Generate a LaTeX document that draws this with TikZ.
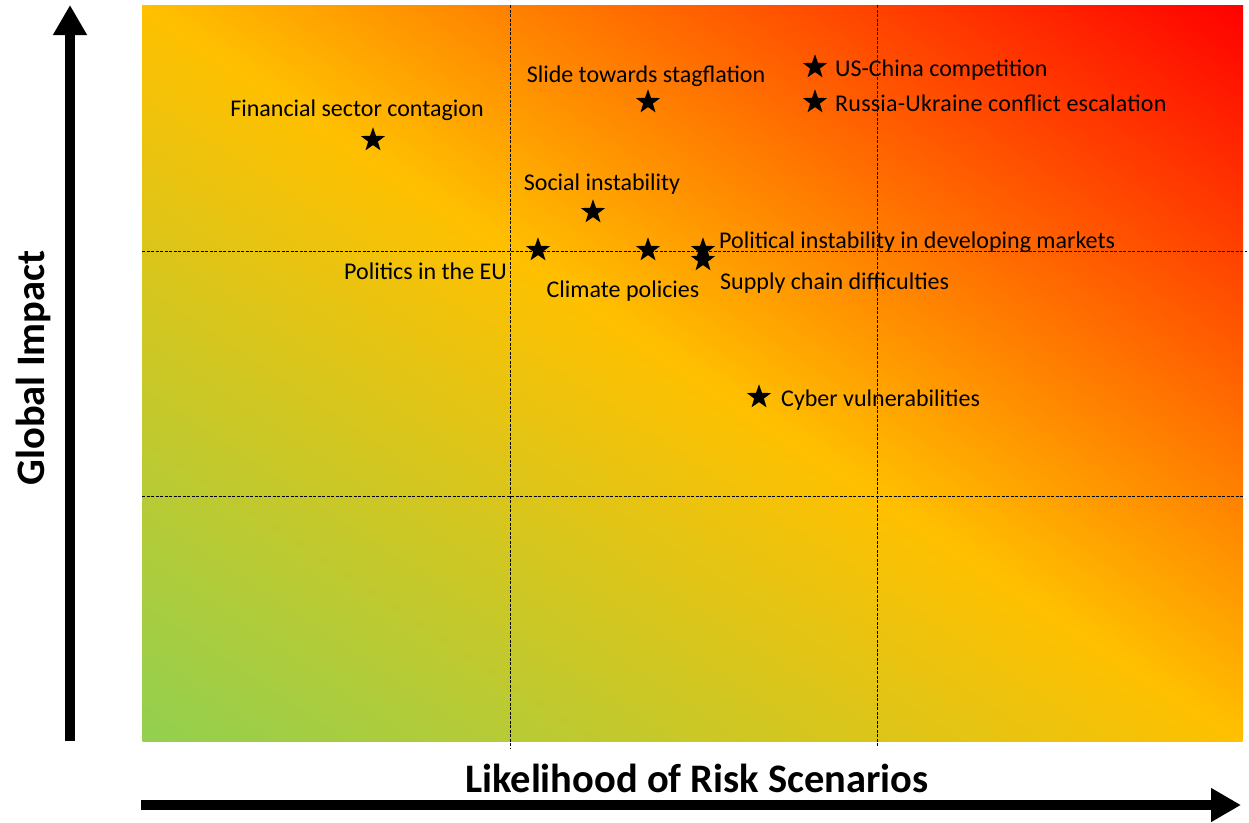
\documentclass[tikz,border=0pt]{standalone}
\usepackage{fontspec}
\setmainfont{Carlito}
\usepackage{xcolor}
\usepackage{tikz}
\usetikzlibrary{shapes.geometric, arrows.meta, positioning}

\definecolor{riskgreen}{HTML}{92D050}
\definecolor{riskyellow}{HTML}{FFC000}
\definecolor{riskred}{HTML}{FF0000}
\pgfdeclarehorizontalshading{riskmap}{100bp}{color(0bp)=(riskgreen); color(25bp)=(riskgreen); color(50bp)=(riskyellow); color(75bp)=(riskred); color(100bp)=(riskred)}

\begin{document}
\begin{tikzpicture}[
    x=1pt, y=-1pt,
    risk/.style={star, star points=5, star point ratio=2.5, fill=black, inner sep=0pt, minimum size=25.5pt},
    lbl/.style={font=\fontsize{24}{28}\selectfont, inner sep=1pt, text height=17pt, text depth=6pt},
    axislbl/.style={font=\fontsize{40.5}{46}\selectfont\bfseries, inner sep=0pt},
    gridline/.style={dash pattern=on 3pt off 1.5pt, line width=0.8pt},
    axisarrow/.style={line width=10pt, -{Triangle[length=30pt, width=32pt]}}
]
\useasboundingbox (0,0) rectangle (1249,822);

% Background map
\begin{scope}
\clip (142,5) rectangle (1243,741);
\begin{scope}[transform canvas={shift={(692.5,373)}, xscale=5.505, yscale=3.68, rotate=45}]
\shade[shading=riskmap] (-141.42,-141.42) rectangle (141.42,141.42);
\end{scope}
\end{scope}

% Grid
\draw[gridline] (510,5) -- (510,748);
\draw[gridline] (877,5) -- (877,747);
\draw[gridline] (142,251) -- (1247,251);
\draw[gridline] (142,496) -- (1243,496);

% Axes
\coordinate (ybase) at (70,741);
\coordinate (ytip) at (70,5);
\coordinate (xbase) at (141,805);
\coordinate (xtip) at (1241,805);
\draw[axisarrow] (ybase) -- (ytip);
\draw[axisarrow] (xbase) -- (xtip);
\node[axislbl, rotate=90] (impact) at (33,368) {Global Impact};
\node[axislbl] (likelihood) at (697,778) {Likelihood of Risk Scenarios};

% Risk scenarios
\node[risk] (fin) at (373,140) {};
\node[risk] (slide) at (648,102) {};
\node[risk] (uschina) at (815,67) {};
\node[risk] (russia) at (815,102) {};
\node[risk] (social) at (593,212) {};
\node[risk] (eu) at (538,250) {};
\node[risk] (climate) at (648,250) {};
\node[risk] (polinst) at (703,250) {};
\node[risk] (supply) at (703,260) {};
\node[risk] (cyber) at (759,397) {};

% Labels
\node[lbl, above=16pt of fin.center, xshift=-16pt] (finlbl) {Financial sector contagion};
\node[lbl, above=12pt of slide.center, xshift=-2pt] (slidelbl) {Slide towards stagflation};
\node[lbl, right=19pt of uschina.center, yshift=-3.5pt] (uschinalbl) {US-China competition};
\node[lbl, right=19pt of russia.center, yshift=-3.5pt] (russialbl) {\addfontfeature{LetterSpace=0.9}Russia-Ukraine conflict escalation};
\node[lbl, above=14pt of social.center, xshift=9pt] (sociallbl) {Social instability};
\node[lbl, left=30pt of eu.center, yshift=-23.5pt] (eulbl) {Politics in the EU};
\node[lbl, below=29pt of climate.center, xshift=-25pt] (climatelbl) {Climate policies};
\node[lbl, right=15pt of polinst.center, yshift=7.5pt] (polinstlbl) {Political instability in developing markets};
\node[lbl, right=16pt of supply.center, yshift=-23.5pt] (supplylbl) {Supply chain difficulties};
\node[lbl, right=21pt of cyber.center, yshift=-3.5pt] (cyberlbl) {Cyber vulnerabilities};

\end{tikzpicture}
\end{document}
